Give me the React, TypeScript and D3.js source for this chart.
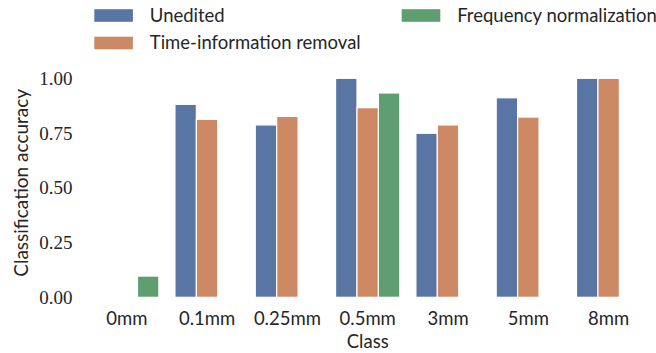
import React, { useEffect, useRef } from 'react';
import * as d3 from 'd3';

// categories and series
const classes = ['0mm', '0.1mm', '0.25mm', '0.5mm', '3mm', '5mm', '8mm'];
const seriesNames = ['Unedited', 'Time-information removal', 'Frequency normalization'];
const unedited = [null, 0.881, 0.787, 1.0, 0.749, 0.911, 1.0];
const timeRemoval = [null, 0.813, 0.826, 0.866, 0.787, 0.823, 1.0];
const freqNorm = [0.097, null, null, 0.933, null, null, null];
const yTicks = [0, 0.25, 0.5, 0.75, 1.0];
const colors = ['#5975a4', '#cc8963', '#5f9e6e'];

const W = 656;
const H = 353;
const SANS = 'Lato, "Open Sans", sans-serif';
const SERIF = '"Liberation Serif", "DejaVu Serif", serif';

const App = () => {
  const ref = useRef<SVGSVGElement | null>(null);

  useEffect(() => {
    if (!ref.current) return;
    const svg = d3.select(ref.current);
    svg.selectAll('*').remove();

    const series = [unedited, timeRemoval, freqNorm];

    // plot area
    const x = d3.scaleBand().domain(classes).range([86.6, 648.8]).paddingInner(0).paddingOuter(0);
    const y = d3.scaleLinear().domain([0, 1]).range([297.3, 78.3]);
    const hue = d3.scaleBand().domain(seriesNames).range([0, x.bandwidth() * 0.8]);
    const off = x.bandwidth() * 0.1;

    const g = svg.append('g');

    series.forEach((vals, si) => {
      g.append('g')
        .selectAll('rect')
        .data(classes.map((c, i) => ({ c, v: vals[i] })).filter(d => d.v != null))
        .join('rect')
        .attr('x', d => (x(d.c) as number) + off + (hue(seriesNames[si]) as number))
        .attr('y', d => y(d.v as number))
        .attr('width', hue.bandwidth())
        .attr('height', d => y(0) - y(d.v as number))
        .attr('fill', colors[si])
        .attr('stroke', '#ffffff')
        .attr('stroke-width', 1.2);
    });

    // y axis (no spine)
    const ya = svg.append('g')
      .attr('transform', `translate(${86.6},0)`)
      .call(d3.axisLeft(y).tickValues(yTicks).tickFormat(d3.format('.2f')).tickSize(0).tickPadding(14));
    ya.select('.domain').remove();
    ya.selectAll('text')
      .attr('font-family', SERIF)
      .attr('font-size', 19)
      .attr('fill', '#262626');

    // x axis (no spine)
    const xa = svg.append('g')
      .attr('transform', `translate(0,${297.3})`)
      .call(d3.axisBottom(x).tickSize(0).tickPadding(15));
    xa.select('.domain').remove();
    xa.selectAll('text')
      .attr('font-family', SANS)
      .attr('font-size', 18.5)
      .attr('fill', '#262626');

    svg.append('text')
      .attr('x', (86.6 + 648.8) / 2)
      .attr('y', 347.5)
      .attr('text-anchor', 'middle')
      .attr('font-family', SANS)
      .attr('font-size', 18.5)
      .attr('fill', '#262626')
      .text('Class');

    svg.append('text')
      .attr('transform', `translate(28,${(78.3 + 297.3) / 2 - 5}) rotate(-90)`)
      .attr('text-anchor', 'middle')
      .attr('font-family', SANS)
      .attr('font-size', 19)
      .attr('fill', '#262626')
      .text('Classification accuracy');

    // legend, two columns
    const legendPos = [
      { x: 94.3, y: 15.5 },
      { x: 94.3, y: 43 },
      { x: 401.7, y: 15.5 },
    ];
    const leg = svg.append('g');
    seriesNames.forEach((name, i) => {
      const p = legendPos[i];
      leg.append('rect')
        .attr('x', p.x)
        .attr('y', p.y - 6.3)
        .attr('width', 38.6)
        .attr('height', 12.6)
        .attr('fill', colors[i]);
      leg.append('text')
        .attr('x', p.x + 55.5)
        .attr('y', p.y)
        .attr('dy', '0.35em')
        .attr('font-family', SANS)
        .attr('font-size', 18.5)
        .attr('fill', '#262626')
        .text(name);
    });
  }, []);

  return (
    <svg
      ref={ref}
      width={W}
      height={H}
      style={{ position: 'absolute', left: 0, top: 0, background: '#ffffff' }}
    />
  );
};

export default App;
